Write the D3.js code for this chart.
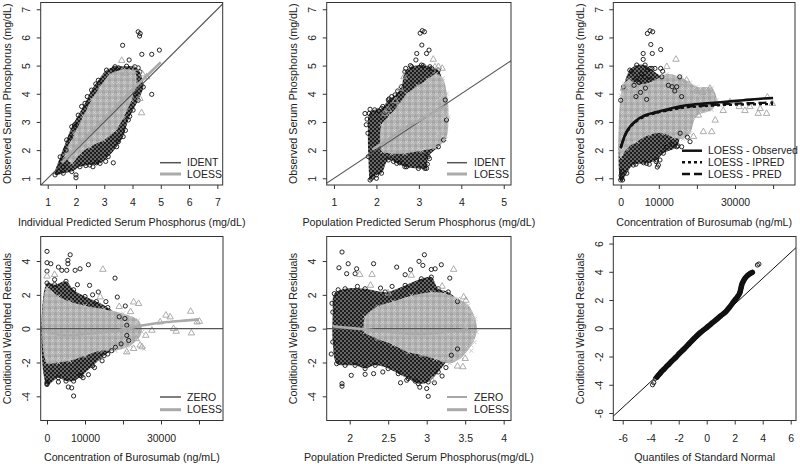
<!DOCTYPE html>
<html>
<head>
<meta charset="utf-8">
<script src="https://cdn.jsdelivr.net/npm/d3@7"></script>
<style>
  body { margin: 0; background: #fff; }
  svg text { font-family: "Liberation Sans", Arial, sans-serif; fill: #222; }
</style>
</head>
<body>
<svg id="chart" width="800" height="464"></svg>
<script>
// ---- panel 1: observed vs individual predicted ----
const p1BlackHull = [[1.26,1.12],[1.44,1.76],[1.67,2.36],[1.85,2.83],[2.08,3.24],[2.32,3.66],[2.55,4.13],[2.79,4.48],[3.08,4.84],[3.38,4.96],[3.79,4.98],[4.08,4.96],[4.26,4.78],[4.38,4.24],[4.2,3.77],[4.02,3.42],[3.85,3.07],[3.67,2.48],[3.44,2.12],[3.14,1.77],[2.85,1.53],[2.49,1.47],[2.14,1.41],[1.85,1.24],[1.55,1.18]];
const p1GreyHull = [[1.62,1.8],[1.96,2.6],[2.26,3.2],[2.56,3.8],[2.86,4.25],[3.2,4.68],[3.67,4.86],[4.07,4.8],[4.14,4.35],[3.96,3.77],[3.68,3.15],[3.4,2.7],[2.98,2.36],[2.5,2.12],[2.15,1.88],[1.86,1.55]];
const p1Circles = [[4.2,6.2],[4.27,6.14],[4.25,6.05],[3.65,5.72],[4.33,5.4],[4.68,5.4],[4.95,5.55],[3.88,5.2],[3.35,4.9],[3.5,4.92],[4.2,4.92],[4.68,3.98],[3.32,1.55],[2.0,1.12],[2.0,1.02],[2.73,1.55],[2.6,1.41],[1.38,1.24],[1.48,1.58],[1.65,2.0],[1.55,1.4],[1.8,2.45],[1.95,2.9],[2.2,3.55],[2.4,3.9],[2.7,4.35],[3.5,2.3],[3.75,2.7],[3.9,3.2],[4.3,4.3],[4.1,4.0],[3.05,1.6],[2.35,1.45]];
const p1Tri = [[3.62,5.18],[4.26,3.83],[4.32,3.32],[4.1,4.9],[3.75,4.72],[4.35,4.7],[4.5,4.6]];
const p1Ident = [[0.7,0.7],[7.3,7.3]];
const p1Loess = [[1.5,1.55],[2,2.08],[2.5,2.6],[3,3.1],[3.5,3.62],[4,4.15],[4.5,4.63],[5,5.12]];

// ---- panel 2: observed vs population predicted ----
const p2BlackHull = [[1.85,0.94],[1.81,1.77],[1.8,2.6],[1.83,3.3],[1.96,3.43],[2.12,3.48],[2.28,3.78],[2.44,3.96],[2.59,4.25],[2.67,4.78],[2.83,4.96],[3.06,5.02],[3.26,4.96],[3.46,4.84],[3.62,3.78],[3.65,3.07],[3.58,2.36],[3.46,2.12],[3.22,1.77],[3.18,1.35],[2.99,1.35],[2.67,1.41],[2.48,1.53],[2.28,1.65],[2.12,1.18],[2.0,1.12],[1.88,1.0]];
const p2GreyHull = [[2.14,1.95],[2.12,2.9],[2.32,3.25],[2.52,3.6],[2.72,4.0],[2.97,4.28],[3.2,4.5],[3.4,4.7],[3.56,4.55],[3.66,4.01],[3.7,3.18],[3.63,2.38],[3.38,2.08],[3.06,1.98],[2.67,1.88],[2.36,1.88]];
const p2Circles = [[3.03,6.15],[3.08,6.24],[3.13,6.2],[3.07,5.73],[2.95,5.43],[3.18,5.43],[3.24,5.55],[2.93,5.2],[2.69,4.9],[2.36,3.9],[2.3,3.82],[1.73,3.3],[1.78,3.1],[1.85,3.45],[1.76,2.9],[2.71,1.41],[3.14,1.35],[3.2,1.5],[2.0,1.0],[1.92,1.05],[2.05,3.4],[2.15,3.55],[2.5,4.1],[2.8,5.0],[3.1,5.0],[3.3,4.9],[3.25,1.7],[2.4,1.6],[2.55,1.55]];
const p2Tri = [[3.34,5.22],[3.46,4.96],[3.38,4.95],[2.56,4.19],[2.28,3.43],[2.2,3.3],[3.55,4.9],[2.65,4.6],[2.45,3.75]];
const p2Cross = [[3.6,3.2],[3.5,3.85],[3.3,3.3],[3.45,2.6]];
const p2Ident = [[0.7,0.7],[5.3,5.3]];
const p2Loess = [[1.9,2.02],[2.2,2.3],[2.6,2.72],[3.0,3.05],[3.3,3.3],[3.6,3.55]];

// ---- panel 3: observed vs concentration ----
const p3BlackHull = [[0,0.94],[0,3.77],[700,4.24],[2400,4.84],[4200,5.02],[6400,5.02],[7700,4.9],[10800,4.6],[14700,4.25],[16000,3.9],[15600,2.6],[14700,2.12],[11200,1.89],[9400,1.65],[6800,1.53],[3300,1.47],[1600,1.18],[500,0.94]];
const p3GreyHull = [[0,1.75],[0,3.95],[900,4.35],[2200,4.5],[4200,4.35],[7700,4.4],[12100,4.7],[15600,4.6],[18200,4.4],[19900,4.25],[23900,4.2],[25200,3.78],[23900,3.43],[19900,3.2],[18200,2.6],[16400,2.4],[13800,2.45],[11200,2.6],[7700,2.55],[4200,2.3],[1600,2.05]];
const p3Circles = [[7000,6.14],[7700,6.24],[8400,6.2],[7900,5.75],[5900,5.43],[8300,5.43],[10500,5.57],[5900,5.22],[9000,4.9],[3500,4.3],[4200,4.55],[4800,4.4],[5500,4.7],[6200,4.6],[7000,4.85],[7500,4.5],[6500,4.2],[5200,4.05],[8200,4.9],[10500,4.9],[11000,4.8],[12500,4.3],[13500,4.25],[14200,4.1],[15500,4.6],[4000,3.9],[6800,3.8],[2800,4.8],[9300,1.59],[9900,1.47],[10300,1.65],[9600,1.4],[12000,2.1],[13500,2.2],[15000,2.15],[16000,2.12],[17500,2.46],[18200,2.3],[200,1.0],[100,1.1],[300,1.25],[4000,1.5],[6000,1.55],[7500,1.5]];
const p3Tri = [[700,4.19],[12100,4.96],[14500,5.22],[17300,4.48],[23400,4.19],[20000,4.1],[21500,4.05],[19100,2.48],[20400,3.24],[21700,2.65],[23900,2.65],[24800,3.06],[26900,3.4],[28700,3.71],[31100,3.54],[32600,3.4],[33900,3.54],[36100,3.3],[36600,3.47],[38300,3.3],[38500,3.88],[39800,3.65],[1000,4.2],[16500,4.4]];
const p3Cross = [[20000,3.95],[17500,4.1],[23500,3.7],[22000,3.5],[26000,3.6]];
const p3Obs = [[0,2.06],[1100,2.53],[2400,2.82],[4200,3.06],[6400,3.24],[9400,3.35],[12900,3.47],[17300,3.59],[21700,3.65],[26900,3.71],[32200,3.77],[37400,3.83],[40000,3.85]];
const p3Ipred = [[0,2.1],[1100,2.5],[2400,2.8],[4200,3.03],[6400,3.2],[9400,3.32],[12900,3.42],[17300,3.52],[21700,3.56],[26900,3.6],[32200,3.62],[37400,3.63],[40000,3.63]];
const p3Pred = [[0,2.1],[1100,2.52],[2400,2.81],[4200,3.05],[6400,3.22],[9400,3.33],[12900,3.44],[17300,3.54],[21700,3.58],[26900,3.63],[32200,3.66],[37400,3.68],[40000,3.69]];

// ---- panel 4: CWRES vs concentration ----
const p4BlackHull = [[0,2.7],[2000,2.6],[5000,2.8],[7000,2.3],[10000,1.9],[13000,1.6],[16000,1.25],[19000,0.7],[21000,0.2],[21000,-0.4],[18000,-1.1],[15000,-1.6],[12000,-2.2],[9000,-2.8],[7000,-3.1],[5000,-3.1],[3000,-2.9],[0,-3.3]];
const p4GreyHull = [[0,2.4],[3000,1.9],[6000,1.6],[10000,1.35],[15000,1.15],[20000,0.9],[24000,0.5],[25000,-0.2],[22000,-1.0],[18000,-1.3],[14000,-1.3],[10000,-1.6],[6000,-1.9],[3000,-2.0],[0,-2.0]];
const p4Circles = [[0,4.57],[0,3.9],[1000,3.84],[6100,4.37],[5500,4.04],[5500,3.84],[3000,3.64],[3900,3.45],[5200,3.45],[7400,3.45],[8700,3.54],[10900,3.78],[17900,2.99],[18500,1.87],[11200,2.56],[13500,2.17],[20600,1.34],[7000,-3.98],[6500,-3.5],[5600,-3.45],[0,-3.25],[0,-3.15],[8700,-2.76],[10900,-2.72],[3000,-3.15],[9500,-2.9],[12500,-2.3],[14500,-1.9],[16000,-1.5],[17000,-1.3],[19500,-0.9],[21500,-0.7],[20500,0.6],[15500,1.6],[12000,2.0],[8000,2.6],[2000,2.9],[0,3.4]];
const p4Tri = [[24100,1.48],[22800,1.57],[24500,-0.98],[25000,-1.08],[22800,-1.18],[21000,-1.38],[27600,-0.1],[29800,0.39],[31300,0.79],[32400,0.69],[33300,0],[34000,-0.16],[37800,1.02],[38000,-0.26],[39500,0.39],[40100,0.43],[14700,3.5],[14000,1.87],[0,3.1],[2000,3.2],[19000,1.3],[22000,1.0],[26000,-0.4],[23500,-0.6]];
const p4Cross = [[21000,-1.4],[25500,-1.2],[23000,0.3]];
const p4Loess = [[0,-0.2],[5200,-0.39],[10500,-0.3],[15700,-0.2],[20100,-0.04],[25400,0.2],[31600,0.39],[36900,0.49],[40000,0.55]];

// ---- panel 5: CWRES vs population predicted ----
const p5BlackHull = [[1.8,2.07],[1.94,2.36],[2.2,2.36],[2.46,2.17],[2.72,2.56],[2.93,2.95],[3.06,3.05],[3.15,2.36],[3.28,2.17],[3.4,1.6],[3.4,-1.2],[3.32,-1.57],[3.15,-2.56],[3.02,-3.15],[2.89,-3.25],[2.76,-2.95],[2.63,-2.66],[2.5,-2.36],[2.33,-2.17],[2.2,-2.36],[2.07,-2.17],[1.94,-2.17],[1.83,-2.07],[1.78,-0.79],[1.78,0.98]];
const p5GreyHull = [[2.2,0.7],[2.36,1.3],[2.56,1.6],[2.8,1.95],[3.06,2.15],[3.24,2.1],[3.41,1.77],[3.54,1.38],[3.63,0.59],[3.65,-0.2],[3.58,-0.98],[3.45,-1.7],[3.3,-2.05],[3.11,-1.8],[2.93,-1.55],[2.76,-1.4],[2.56,-0.95],[2.36,-0.6],[2.2,-0.2]];
const p5Circles = [[1.9,4.53],[1.86,3.6],[1.98,3.84],[1.96,3.25],[2.09,3.54],[2.07,3.25],[2.31,3.84],[2.61,3.64],[2.79,3.48],[2.9,3.98],[2.97,4.37],[2.95,3.74],[3.06,3.5],[3.11,3.54],[3.19,3.78],[3.3,2.99],[2.72,3.19],[3.02,-4.0],[2.91,-3.46],[3.0,-3.54],[2.66,-3.2],[2.74,-3.05],[1.9,-3.25],[1.9,-3.4],[2.02,-2.76],[2.2,-2.7],[2.31,-2.66],[2.43,-2.56],[2.55,2.5],[2.4,2.4],[2.1,2.5],[1.85,2.3],[3.2,-2.8],[3.1,-3.2],[2.85,-3.1],[3.25,-2.3],[1.77,1.5],[1.76,-1.5]];
const p5Tri = [[3.35,3.5],[2.13,3.2],[2.29,3.2],[2.27,2.56],[2.8,3.15],[3.47,-2.26],[3.4,-2.22],[3.5,-1.77],[3.48,1.87],[3.51,1.67],[3.07,-3.05],[2.5,2.1],[3.2,2.5]];
const p5Cross = [[3.55,1.0],[3.6,0.6],[3.58,-1.3],[3.62,-0.8],[3.5,0.2]];
const p5Loess = [[1.78,0.14],[2.2,-0.04],[2.63,-0.24],[2.85,-0.31],[3.06,-0.28],[3.32,-0.16],[3.54,-0.04]];

// ---- panel 6: QQ plot of CWRES ----
const p6Band = [[-3.55,-3.45],[-3.47,-3.35],[-3.35,-3.22],[-3.23,-3.07],[-3.05,-2.9],[-2.88,-2.71],[-2.7,-2.55],[-2.53,-2.36],[-2.2,-2.05],[-1.94,-1.77],[-1.6,-1.45],[-1.23,-1.06],[-0.9,-0.72],[-0.52,-0.35],[0,0.05],[0.3,0.3],[0.66,0.59],[1.0,0.88],[1.37,1.18],[1.6,1.45],[1.84,1.77],[2.05,2.05],[2.2,2.24],[2.39,2.59],[2.45,2.85],[2.5,3.07],[2.6,3.3],[2.74,3.54],[2.9,3.72],[3.03,3.82],[3.15,3.9],[3.26,3.96]];
const p6Tails = [[-3.87,-4.0],[-3.78,-3.85],[-3.66,-3.54],[3.62,4.48],[3.73,4.55]];
const p6Ref = [[-6.7,-6.25],[6.4,5.73]];

const obsLabel = "Observed Serum Phosphorus (mg/dL)";
const cwresLabel = "Conditional Weighted Residuals";
const concLabel = "Concentration of Burosumab (ng/mL)";

const svg = d3.select("#chart");
const defs = svg.append("defs");

// textures standing in for the dense over-plotted clouds
const pb = defs.append("pattern").attr("id", "pBlack").attr("patternUnits", "userSpaceOnUse")
    .attr("width", 4).attr("height", 4);
pb.append("rect").attr("width", 4).attr("height", 4).attr("fill", "#1c1c1c");
[[1, 1], [3, 3]].forEach(c => pb.append("circle").attr("cx", c[0]).attr("cy", c[1])
    .attr("r", 0.75).attr("fill", "#d8d8d8"));
const pg = defs.append("pattern").attr("id", "pGrey").attr("patternUnits", "userSpaceOnUse")
    .attr("width", 6).attr("height", 6);
pg.append("rect").attr("width", 6).attr("height", 6).attr("fill", "#b4b4b4");
pg.append("path").attr("d", "M1.5,0.2L3,2.8L0,2.8Z").attr("fill", "none").attr("stroke", "#969696").attr("stroke-width", 0.7);
pg.append("path").attr("d", "M3.3,3.3L5.7,5.7M3.3,5.7L5.7,3.3").attr("stroke", "#dcdcdc").attr("stroke-width", 0.8);

const lightLine = "#aaaaaa", darkLine = "#555555";
const fmt = d => d;

function drawPanel(p, id) {
    const x = d3.scaleLinear().domain(p.xDom).range([p.left, p.right]);
    const y = d3.scaleLinear().domain(p.yDom).range([p.bottom, p.top]);
    const w = p.right - p.left, h = p.bottom - p.top;

    defs.append("clipPath").attr("id", "clip" + id)
        .append("rect").attr("x", p.left).attr("y", p.top).attr("width", w).attr("height", h);

    const g = svg.append("g");
    const plot = g.append("g").attr("clip-path", `url(#clip${id})`);

    const hull = d3.line().x(d => x(d[0])).y(d => y(d[1])).curve(d3.curveCatmullRomClosed.alpha(0.5));
    if (p.blackHull) plot.append("path").datum(p.blackHull).attr("d", hull).attr("fill", "url(#pBlack)");
    if (p.greyHull) plot.append("path").datum(p.greyHull).attr("d", hull).attr("fill", "url(#pGrey)");

    const line = d3.line().x(d => x(d[0])).y(d => y(d[1])).curve(d3.curveMonotoneX);

    if (p.band) {
        plot.append("path").datum(p.band).attr("d", line)
            .attr("fill", "none").attr("stroke", "#111").attr("stroke-width", 5.5).attr("stroke-linecap", "round");
    }

    const circle = d => plot.append("circle")
        .attr("cx", x(d[0])).attr("cy", y(d[1])).attr("r", 2.1)
        .attr("fill", "none").attr("stroke", "#111").attr("stroke-width", 0.9);
    // ragged edge of the black cloud: the outline points are marks in the picture too
    (p.blackHull || []).forEach(circle);
    (p.cross || []).concat(p.greyHull || []).forEach(d => plot.append("path")
        .attr("transform", `translate(${x(d[0])},${y(d[1])})`)
        .attr("d", "M-2,-2L2,2M-2,2L2,-2").attr("stroke", "#c4c4c4").attr("stroke-width", 0.9));
    (p.circles || []).forEach(circle);
    const tri = d3.symbol(d3.symbolTriangle, 18);
    (p.tri || []).forEach(d => plot.append("path")
        .attr("transform", `translate(${x(d[0])},${y(d[1])})`)
        .attr("d", tri).attr("fill", "none").attr("stroke", "#a4a4a4").attr("stroke-width", 0.9));

    const straight = d3.line().x(d => x(d[0])).y(d => y(d[1]));
    (p.lines || []).forEach(l => plot.append("path").datum(l.data)
        .attr("d", l.smooth ? line : straight)
        .attr("fill", "none").attr("stroke", l.color).attr("stroke-width", l.width)
        .attr("stroke-dasharray", l.dash || null));

    g.append("rect").attr("x", p.left).attr("y", p.top).attr("width", w).attr("height", h)
        .attr("fill", "none").attr("stroke", "#333").attr("stroke-width", 1);

    // axes, R style: outward ticks, labels parallel to axis
    const xAxis = d3.axisBottom(x).tickValues(p.xTicks).tickSize(4).tickSizeOuter(0).tickPadding(10)
        .tickFormat(p.xFormat || fmt);
    const gx = g.append("g").attr("transform", `translate(0,${p.bottom})`).call(xAxis);
    const yAxis = d3.axisLeft(y).tickValues(p.yTicks).tickSize(4).tickSizeOuter(0).tickFormat(fmt);
    const gy = g.append("g").attr("transform", `translate(${p.left},0)`).call(yAxis);
    [gx, gy].forEach(a => {
        a.select(".domain").remove();
        a.selectAll(".tick line").attr("stroke", "#333");
        a.selectAll(".tick text").attr("font-size", 10.5).attr("fill", "#222")
            .style("font-family", '"Liberation Sans", Arial, sans-serif');
    });
    gy.selectAll(".tick text").attr("transform", "rotate(-90)").attr("text-anchor", "middle")
        .attr("x", 0).attr("y", -14).attr("dy", "0.35em");

    g.append("text").attr("x", (p.left + p.right) / 2).attr("y", p.bottom + 37).attr("dy", "0.35em")
        .attr("text-anchor", "middle").attr("font-size", 10.7).text(p.xLabel);
    g.append("text").attr("transform", `translate(${p.left - 33},${(p.top + p.bottom) / 2}) rotate(-90)`)
        .attr("dy", "0.35em").attr("text-anchor", "middle").attr("font-size", 10.7).text(p.yLabel);

    if (p.legend) {
        const lg = p.legend;
        lg.items.forEach(it => {
            g.append("line").attr("x1", lg.x1).attr("x2", lg.x2).attr("y1", it.y).attr("y2", it.y)
                .attr("stroke", it.color).attr("stroke-width", it.width).attr("stroke-dasharray", it.dash || null);
            g.append("text").attr("x", lg.tx).attr("y", it.y).attr("dy", "0.35em")
                .attr("font-size", 10.5).text(it.label);
        });
    }
}

const row1 = { top: 2.5, bottom: 185 }, row2 = { top: 236.5, bottom: 420.5 };
const phosTicks = [1, 2, 3, 4, 5, 6, 7];
const concTicks = [0, 10000, 20000, 30000, 40000];
const concFormat = d => ([0, 10000, 30000].includes(d) ? d : "");
const residTicks = [-4, -2, 0, 2, 4];

const panels = [
    { left: 40.7, right: 222.7, ...row1, xDom: [0.752, 7.19], yDom: [0.762, 7.24],
      xTicks: phosTicks, yTicks: phosTicks,
      xLabel: "Individual Predicted Serum Phosphorus (mg/dL)", yLabel: obsLabel,
      blackHull: p1BlackHull, greyHull: p1GreyHull, circles: p1Circles, tri: p1Tri,
      lines: [{ data: p1Ident, color: darkLine, width: 1.1 },
              { data: p1Loess, color: lightLine, width: 2.6, smooth: true }],
      legend: { x1: 160, x2: 181, tx: 187, items: [
          { label: "IDENT", y: 162.7, color: darkLine, width: 1.5 },
          { label: "LOESS", y: 174, color: lightLine, width: 3 }] } },
    { left: 326.7, right: 511, ...row1, xDom: [0.828, 5.171], yDom: [0.762, 7.24],
      xTicks: [1, 2, 3, 4, 5], yTicks: phosTicks,
      xLabel: "Population Predicted Serum Phosphorus (mg/dL)", yLabel: obsLabel,
      blackHull: p2BlackHull, greyHull: p2GreyHull, circles: p2Circles, tri: p2Tri, cross: p2Cross,
      lines: [{ data: p2Ident, color: darkLine, width: 1.1 },
              { data: p2Loess, color: lightLine, width: 2.6, smooth: true }],
      legend: { x1: 447, x2: 467, tx: 474, items: [
          { label: "IDENT", y: 162.7, color: darkLine, width: 1.5 },
          { label: "LOESS", y: 174, color: lightLine, width: 3 }] } },
    { left: 613.3, right: 795, ...row1, xDom: [-1942, 45748], yDom: [0.762, 7.24],
      xTicks: concTicks, xFormat: concFormat, yTicks: phosTicks,
      xLabel: concLabel, yLabel: obsLabel,
      blackHull: p3BlackHull, greyHull: p3GreyHull, circles: p3Circles, tri: p3Tri, cross: p3Cross,
      lines: [{ data: p3Ipred, color: "#111", width: 2.3, dash: "3,3", smooth: true },
              { data: p3Pred, color: "#111", width: 2.3, dash: "8,4", smooth: true },
              { data: p3Obs, color: "#111", width: 2.6, smooth: true }],
      legend: { x1: 682, x2: 702, tx: 708, items: [
          { label: "LOESS - Observed", y: 150.7, color: "#111", width: 2.5 },
          { label: "LOESS - IPRED", y: 162.3, color: "#111", width: 2.5, dash: "3,3" },
          { label: "LOESS - PRED", y: 174, color: "#111", width: 2.5, dash: "8,4" }] } },
    { left: 40.7, right: 223, ...row2, xDom: [-1658, 46316], yDom: [-5.43, 5.45],
      xTicks: concTicks, xFormat: concFormat, yTicks: residTicks,
      xLabel: concLabel, yLabel: cwresLabel,
      blackHull: p4BlackHull, greyHull: p4GreyHull, circles: p4Circles, tri: p4Tri, cross: p4Cross,
      lines: [{ data: [[-1658, 0], [46316, 0]], color: darkLine, width: 1.1 },
              { data: p4Loess, color: lightLine, width: 2.6, smooth: true }],
      legend: { x1: 160, x2: 181, tx: 187, items: [
          { label: "ZERO", y: 397, color: darkLine, width: 1.5 },
          { label: "LOESS", y: 409.7, color: lightLine, width: 3 }] } },
    { left: 326.7, right: 511, ...row2, xDom: [1.701, 4.095], yDom: [-5.43, 5.45],
      xTicks: [2, 2.5, 3, 3.5, 4], yTicks: residTicks,
      xLabel: "Population Predicted Serum Phosphorus(mg/dL)", yLabel: cwresLabel,
      blackHull: p5BlackHull, greyHull: p5GreyHull, circles: p5Circles, tri: p5Tri, cross: p5Cross,
      lines: [{ data: [[1.701, 0], [4.095, 0]], color: darkLine, width: 1.1 },
              { data: p5Loess, color: lightLine, width: 2.6, smooth: true }],
      legend: { x1: 447, x2: 467, tx: 474, items: [
          { label: "ZERO", y: 397, color: "#888", width: 1.5 },
          { label: "LOESS", y: 409.7, color: lightLine, width: 3 }] } },
    { left: 613.3, right: 796, ...row2, xDom: [-6.671, 6.379], yDom: [-6.53, 6.5],
      xTicks: [-6, -4, -2, 0, 2, 4, 6], yTicks: [-6, -4, -2, 0, 2, 4, 6],
      xLabel: "Quantiles of Standard Normal", yLabel: cwresLabel,
      band: p6Band, circles: p6Band.concat(p6Tails),
      lines: [{ data: p6Ref, color: "#111", width: 1 }] }
];

panels.forEach((p, i) => drawPanel(p, i));
</script>
</body>
</html>
